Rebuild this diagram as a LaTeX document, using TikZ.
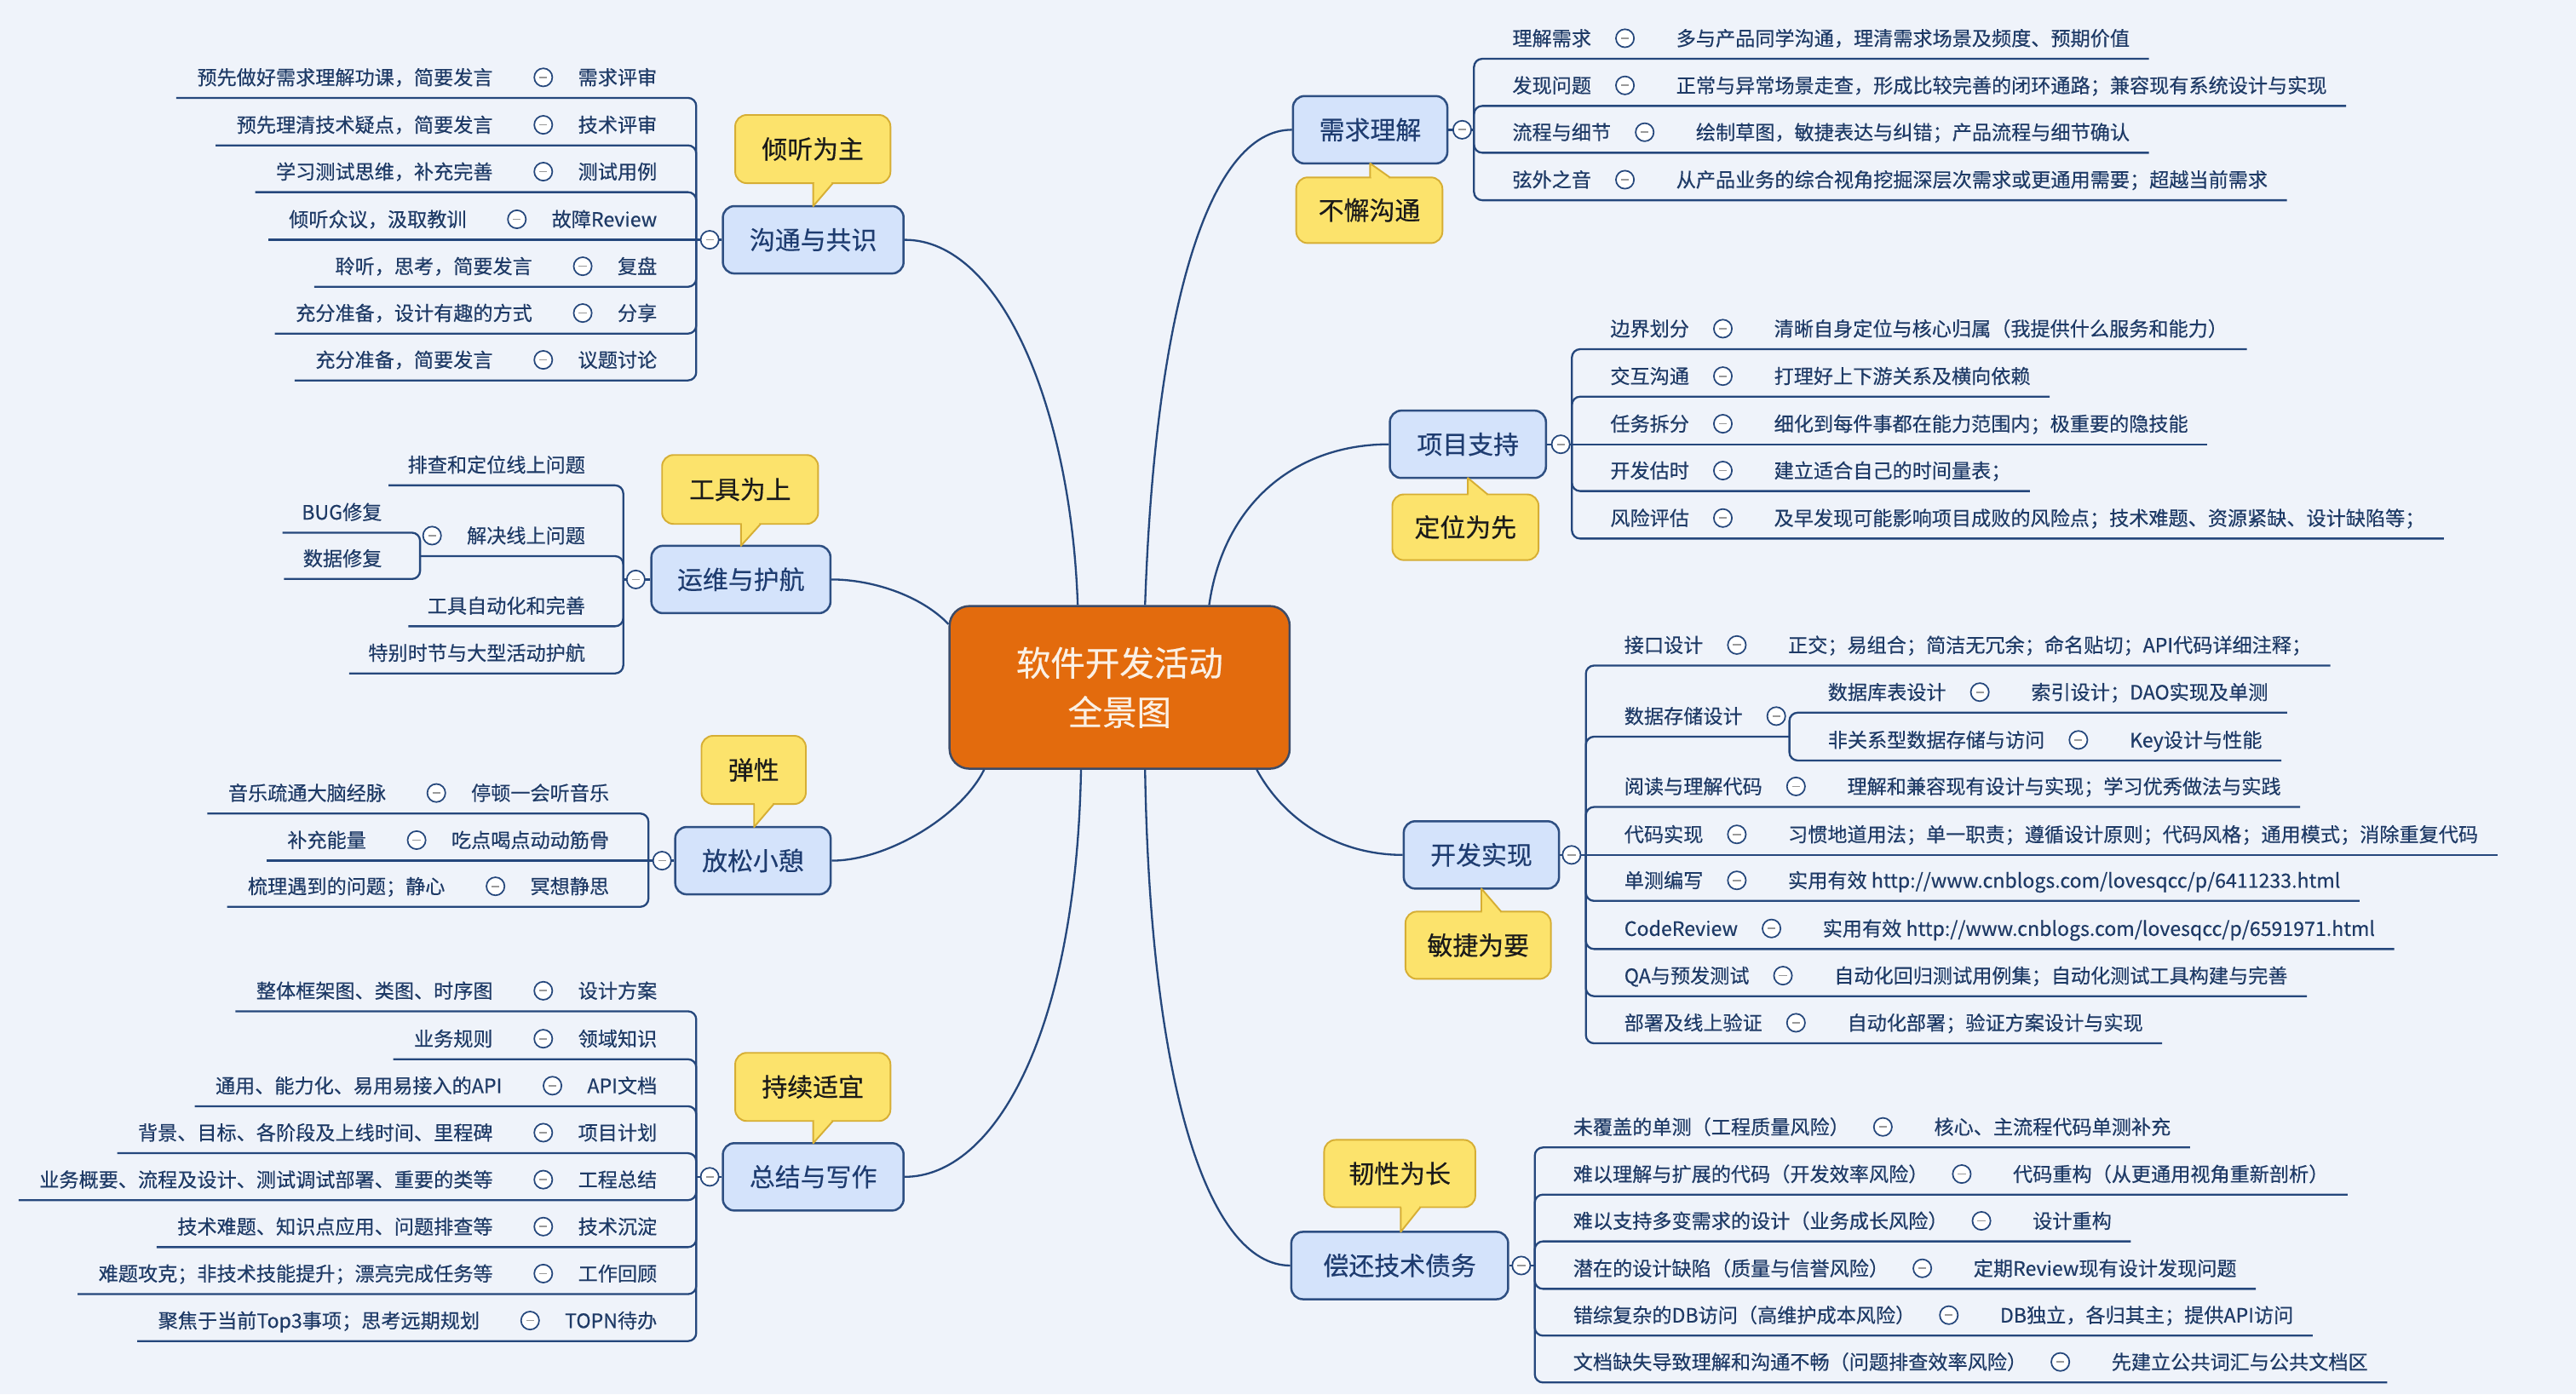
\documentclass[tikz,border=0pt]{standalone}
\usepackage{fontspec}
\setmainfont{Noto Sans CJK SC}
\newfontfamily\mmheavy[FakeBold=0.4]{Noto Sans CJK SC}
\usetikzlibrary{calc}
\definecolor{bgc}{HTML}{EFF3FA}
\definecolor{linec}{HTML}{25477C}
\definecolor{leafc}{HTML}{1E3A66}
\definecolor{branchf}{HTML}{D4E3FB}
\definecolor{branchb}{HTML}{2E4F82}
\definecolor{branchc}{HTML}{1E3C70}
\definecolor{centf}{HTML}{E36B0D}
\definecolor{centb}{HTML}{3C4B68}
\definecolor{centt}{HTML}{FBF0E4}
\definecolor{callf}{HTML}{FCE36C}
\definecolor{callb}{HTML}{D6AE34}
\definecolor{calltc}{HTML}{1A1A1A}
% right row: name, junction, y, label, detail, corner style
\newcommand\mmrrow[6]{%
  \coordinate (#1u) at (#2 |- 0,#3);
  \node[leaf,anchor=west] (#1l) at ([shift={(23.2pt,12.5pt)}]#1u) {#4};
  \node[knob] (#1c) at ([xshift=20.3pt]#1l.east) {};
  \node[leaf,anchor=west] (#1d) at ([xshift=31pt]#1c.center) {#5};
  \path (#1d.east |- #1u) ++(11.5pt,0) coordinate (#1e);
  \draw[conn,#6] (#2) |- (#1e);
}
% left row: name, junction, y, label, detail, corner style
\newcommand\mmlrow[6]{%
  \coordinate (#1u) at (#2 |- 0,#3);
  \node[leaf,anchor=east] (#1l) at ([shift={(-23.7pt,12.5pt)}]#1u) {#4};
  \node[knob] (#1c) at ([xshift=-21pt]#1l.west) {};
  \node[leaf,anchor=east] (#1d) at ([xshift=-30.5pt]#1c.center) {#5};
  \path (#1d.west |- #1u) ++(-12.5pt,0) coordinate (#1e);
  \draw[conn,#6] (#2) |- (#1e);
}
% plain left row: name, junction, y, text, corner style
\newcommand\mmprow[5]{%
  \coordinate (#1u) at (#2 |- 0,#3);
  \node[leaf,anchor=east] (#1l) at ([shift={(-23pt,12.5pt)}]#1u) {#4};
  \path (#1l.west |- #1u) ++(-11.5pt,0) coordinate (#1e);
  \draw[conn,#5] (#2) |- (#1e);
}
% callout: name, text, x1, y1, x2, y2, pointer x, tip y, base y
\newcommand\mmcallout[9]{%
  \filldraw[callshape] (#3,#4) rectangle (#5,#6);
  \fill[callf] (#7,#8) -- (#7,#9) -- (#7+12,#9) -- cycle;
  \fill[callf] (#7+0.6,#9-1.2) rectangle (#7+11.2,#9+1.2);
  \draw[draw=callb,line width=1pt,line join=round] (#7+12,#9) -- (#7,#8) -- (#7,#9);
  \node[calltext] (#1) at ({(#3+#5)/2},{(#4+#6)/2}) {#2};
}
\begin{document}
\begin{tikzpicture}[x=1pt,y=-1pt,
  conn/.style={draw=linec,line width=1.2pt},
  rc/.style={rounded corners=5pt},
  leaf/.style={font=\mmheavy\fontsize{12}{14}\selectfont,text=leafc,inner sep=0pt,text height=10.5pt,text depth=1.5pt},
  knob/.style={circle,draw=linec,fill=white,line width=0.9pt,minimum size=11pt,inner sep=0pt,
    path picture={\draw[line width=0.9pt,gray!80] ([xshift=-2.4pt]path picture bounding box.center) -- ([xshift=2.4pt]path picture bounding box.center);}},
  branch/.style={draw=branchb,fill=branchf,line width=1.3pt,rounded corners=7pt,font=\mmheavy\fontsize{15.5}{18}\selectfont,text=branchc,minimum height=41pt,inner sep=0pt,text height=13.6pt,text depth=1.9pt},
  central/.style={draw=centb,fill=centf,line width=1.3pt,rounded corners=12pt,font=\mmheavy\fontsize{21}{30}\selectfont,text=centt,minimum width=207pt,minimum height=99pt,align=center,inner sep=0pt},
  callshape/.style={draw=callb,fill=callf,line width=1pt,rounded corners=7pt},
  calltext/.style={font=\mmheavy\fontsize{15.5}{18}\selectfont,text=calltc,inner sep=0pt,text height=13.6pt,text depth=1.9pt},
]
\useasboundingbox (0,0) rectangle (1568,849);
\fill[bgc] (0,0) rectangle (1568,849);

% central node
\node[central] (cen) at (681.5,418.5) {软件开发活动\\全景图};

% branch nodes
\node[branch,minimum width=94pt] (A) at (834,79) {需求理解};
\node[branch,minimum width=95pt] (B) at (893.5,270.5) {项目支持};
\node[branch,minimum width=94.5pt] (C) at (901.7,520.5) {开发实现};
\node[branch,minimum width=132pt] (D) at (852,770.5) {偿还技术债务};
\node[branch,minimum width=110pt] (E) at (495,146) {沟通与共识};
\node[branch,minimum width=109pt] (F) at (451,352.8) {运维与护航};
\node[branch,minimum width=94.6pt] (G) at (458.3,524) {放松小憩};
\node[branch,minimum width=110pt] (H) at (495,716.5) {总结与写作};

% connectors from central node
\draw[conn] ([xshift=-25.5pt]cen.north) .. controls (652,250) and (610,146) .. (E.east);
\draw[conn] ([xshift=15.5pt]cen.north) .. controls (703,190) and (735,79) .. (A.west);
\draw[conn] ([xshift=54.5pt]cen.north) .. controls (745,305) and (790,270.5) .. (B.west);
\draw[conn] ([yshift=38.5pt]cen.west) .. controls (560,362) and (530,352.8) .. (F.east);
\draw[conn] ([xshift=-82.5pt]cen.south) .. controls (585,497) and (540,524) .. (G.east);
\draw[conn] ([xshift=-23.5pt]cen.south) .. controls (655,630) and (605,716.5) .. (H.east);
\draw[conn] ([xshift=15.5pt]cen.south) .. controls (700,660) and (735,770.5) .. (D.west);
\draw[conn] ([xshift=83.5pt]cen.south) .. controls (782,500) and (815,520.5) .. (C.west);

% junctions and branch knobs
\coordinate (Aj) at (897.2,79);
\coordinate (Bj) at (956.8,270.5);
\coordinate (Cj) at (965.3,520.5);
\coordinate (Dj) at (934.2,770.5);
\coordinate (Ej) at (423.8,146);
\coordinate (Fj) at (379.4,352.8);
\coordinate (Gj) at (394.7,524);
\coordinate (Hj) at (423.8,716.5);
\draw[conn] (A.east) -- (Aj);
\draw[conn] (B.east) -- (Bj);
\draw[conn] (C.east) -- (Cj);
\draw[conn] (D.east) -- (Dj);
\draw[conn] (E.west) -- (Ej);
\draw[conn] (F.west) -- (Fj);
\draw[conn] (G.west) -- (Gj);
\draw[conn] (H.west) -- (Hj);
\node[knob] (Ac) at (890,79) {};
\node[knob] (Bc) at (950,270.5) {};
\node[knob] (Cc) at (956.6,520.5) {};
\node[knob] (Dc) at (926,770.5) {};
\node[knob] (Ec) at (432,146) {};
\node[knob] (Fc) at (387,352.8) {};
\node[knob] (Gc) at (403,524) {};
\node[knob] (Hc) at (432,716.5) {};

% callouts
\mmcallout{Acall}{不懈沟通}{789}{108}{878}{148}{834}{99.5}{108}
\mmcallout{Bcall}{定位为先}{847.5}{301}{936.5}{341}{893.5}{291}{301}
\mmcallout{Ccall}{敏捷为要}{855.5}{555}{944}{596}{901.7}{541}{555}
\mmcallout{Dcall}{韧性为长}{806}{694}{898}{735}{852.6}{750}{735}
\mmcallout{Ecall}{倾听为主}{447.5}{70}{542}{111.5}{495}{125.5}{111.5}
\mmcallout{Fcall}{工具为上}{403}{277}{498}{319}{451}{332.3}{319}
\mmcallout{Gcall}{弹性}{427}{448}{490.5}{489.5}{459}{503.5}{489.5}
\mmcallout{Hcall}{持续适宜}{447.5}{641}{542}{682.5}{495}{696}{682.5}

% group A
\mmrrow{a1}{Aj}{35.8}{理解需求}{多与产品同学沟通，理清需求场景及频度、预期价值}{rc}
\mmrrow{a2}{Aj}{64.5}{发现问题}{正常与异常场景走查，形成比较完善的闭环通路；兼容现有系统设计与实现}{rc}
\mmrrow{a3}{Aj}{93}{流程与细节}{绘制草图，敏捷表达与纠错；产品流程与细节确认}{rc}
\mmrrow{a4}{Aj}{121.9}{弦外之音}{从产品业务的综合视角挖掘深层次需求或更通用需要；超越当前需求}{rc}

% group B
\mmrrow{b1}{Bj}{212.6}{边界划分}{清晰自身定位与核心归属（我提供什么服务和能力）}{rc}
\mmrrow{b2}{Bj}{241.5}{交互沟通}{打理好上下游关系及横向依赖}{rc}
\mmrrow{b3}{Bj}{270.5}{任务拆分}{细化到每件事都在能力范围内；极重要的隐技能}{sharp corners}
\mmrrow{b4}{Bj}{299}{开发估时}{建立适合自己的时间量表；}{rc}
\mmrrow{b5}{Bj}{327.9}{风险评估}{及早发现可能影响项目成败的风险点；技术难题、资源紧缺、设计缺陷等；}{rc}

% group C
\mmrrow{c1}{Cj}{405.2}{接口设计}{正交；易组合；简洁无冗余；命名贴切；API代码详细注释；}{rc}
\coordinate (c2u) at (Cj |- 0,448.5);
\node[leaf,anchor=west] (c2l) at ([shift={(23.2pt,12.5pt)}]c2u) {数据存储设计};
\node[knob] (c2c) at ([xshift=20.3pt]c2l.east) {};
\path (c2c.center |- c2u) ++(8pt,0) coordinate (C2j);
\draw[conn,rc] (Cj) |- (C2j);
\mmrrow{c2a}{C2j}{433.9}{数据库表设计}{索引设计；DAO实现及单测}{rc}
\mmrrow{c2b}{C2j}{463}{非关系型数据存储与访问}{Key设计与性能}{rc}
\mmrrow{c3}{Cj}{491.3}{阅读与理解代码}{理解和兼容现有设计与实现；学习优秀做法与实践}{rc}
\mmrrow{c4}{Cj}{520.5}{代码实现}{习惯地道用法；单一职责；遵循设计原则；代码风格；通用模式；消除重复代码}{sharp corners}
\mmrrow{c5}{Cj}{548.5}{单测编写}{实用有效 http://www.cnblogs.com/lovesqcc/p/6411233.html}{rc}
\mmrrow{c6}{Cj}{577.8}{CodeReview}{实用有效 http://www.cnblogs.com/lovesqcc/p/6591971.html}{rc}
\mmrrow{c7}{Cj}{606.5}{QA与预发测试}{自动化回归测试用例集；自动化测试工具构建与完善}{rc}
\mmrrow{c8}{Cj}{635.2}{部署及线上验证}{自动化部署；验证方案设计与实现}{rc}

% group D
\mmrrow{d1}{Dj}{698.6}{未覆盖的单测（工程质量风险）}{核心、主流程代码单测补充}{rc}
\mmrrow{d2}{Dj}{727.3}{难以理解与扩展的代码（开发效率风险）}{代码重构（从更通用视角重新剖析）}{rc}
\mmrrow{d3}{Dj}{755.8}{难以支持多变需求的设计（业务成长风险）}{设计重构}{rc}
\mmrrow{d4}{Dj}{784.7}{潜在的设计缺陷（质量与信誉风险）}{定期Review现有设计发现问题}{rc}
\mmrrow{d5}{Dj}{813.2}{错综复杂的DB访问（高维护成本风险）}{DB独立，各归其主；提供API访问}{rc}
\mmrrow{d6}{Dj}{841.7}{文档缺失导致理解和沟通不畅（问题排查效率风险）}{先建立公共词汇与公共文档区}{rc}

% group E
\mmlrow{e1}{Ej}{59.6}{需求评审}{预先做好需求理解功课，简要发言}{rc}
\mmlrow{e2}{Ej}{88.5}{技术评审}{预先理清技术疑点，简要发言}{rc}
\mmlrow{e3}{Ej}{117}{测试用例}{学习测试思维，补充完善}{rc}
\mmlrow{e4}{Ej}{146}{故障Review}{倾听众议，汲取教训}{sharp corners}
\mmlrow{e5}{Ej}{174.6}{复盘}{聆听，思考，简要发言}{rc}
\mmlrow{e6}{Ej}{203.1}{分享}{充分准备，设计有趣的方式}{rc}
\mmlrow{e7}{Ej}{231.6}{议题讨论}{充分准备，简要发言}{rc}

% group F
\mmprow{f1}{Fj}{295.5}{排查和定位线上问题}{rc}
\coordinate (f2u) at (Fj |- 0,338.6);
\node[leaf,anchor=east] (f2l) at ([shift={(-23pt,12.5pt)}]f2u) {解决线上问题};
\node[knob] (f2c) at ([xshift=-21pt]f2l.west) {};
\path (f2c.center |- f2u) ++(-7.3pt,0) coordinate (F2j);
\draw[conn,rc] (Fj) |- (F2j);
\mmprow{f2a}{F2j}{324.3}{BUG修复}{rc}
\mmprow{f2b}{F2j}{352.5}{数据修复}{rc}
\mmprow{f3}{Fj}{381.3}{工具自动化和完善}{rc}
\mmprow{f4}{Fj}{410}{特别时节与大型活动护航}{rc}

% group G
\mmlrow{g1}{Gj}{495.3}{停顿一会听音乐}{音乐疏通大脑经脉}{rc}
\mmlrow{g2}{Gj}{524}{吃点喝点动动筋骨}{补充能量}{sharp corners}
\mmlrow{g3}{Gj}{552.1}{冥想静思}{梳理遇到的问题；静心}{rc}

% group H
\mmlrow{h1}{Hj}{615.7}{设计方案}{整体框架图、类图、时序图}{rc}
\mmlrow{h2}{Hj}{644.9}{领域知识}{业务规则}{rc}
\mmlrow{h3}{Hj}{673.5}{API文档}{通用、能力化、易用易接入的API}{rc}
\mmlrow{h4}{Hj}{702.1}{项目计划}{背景、目标、各阶段及上线时间、里程碑}{rc}
\mmlrow{h5}{Hj}{730.7}{工程总结}{业务概要、流程及设计、测试调试部署、重要的类等}{rc}
\mmlrow{h6}{Hj}{759.3}{技术沉淀}{技术难题、知识点应用、问题排查等}{rc}
\mmlrow{h7}{Hj}{787.9}{工作回顾}{难题攻克；非技术技能提升；漂亮完成任务等}{rc}
\mmlrow{h8}{Hj}{816.5}{TOPN待办}{聚焦于当前Top3事项；思考远期规划}{rc}
\end{tikzpicture}
\end{document}
